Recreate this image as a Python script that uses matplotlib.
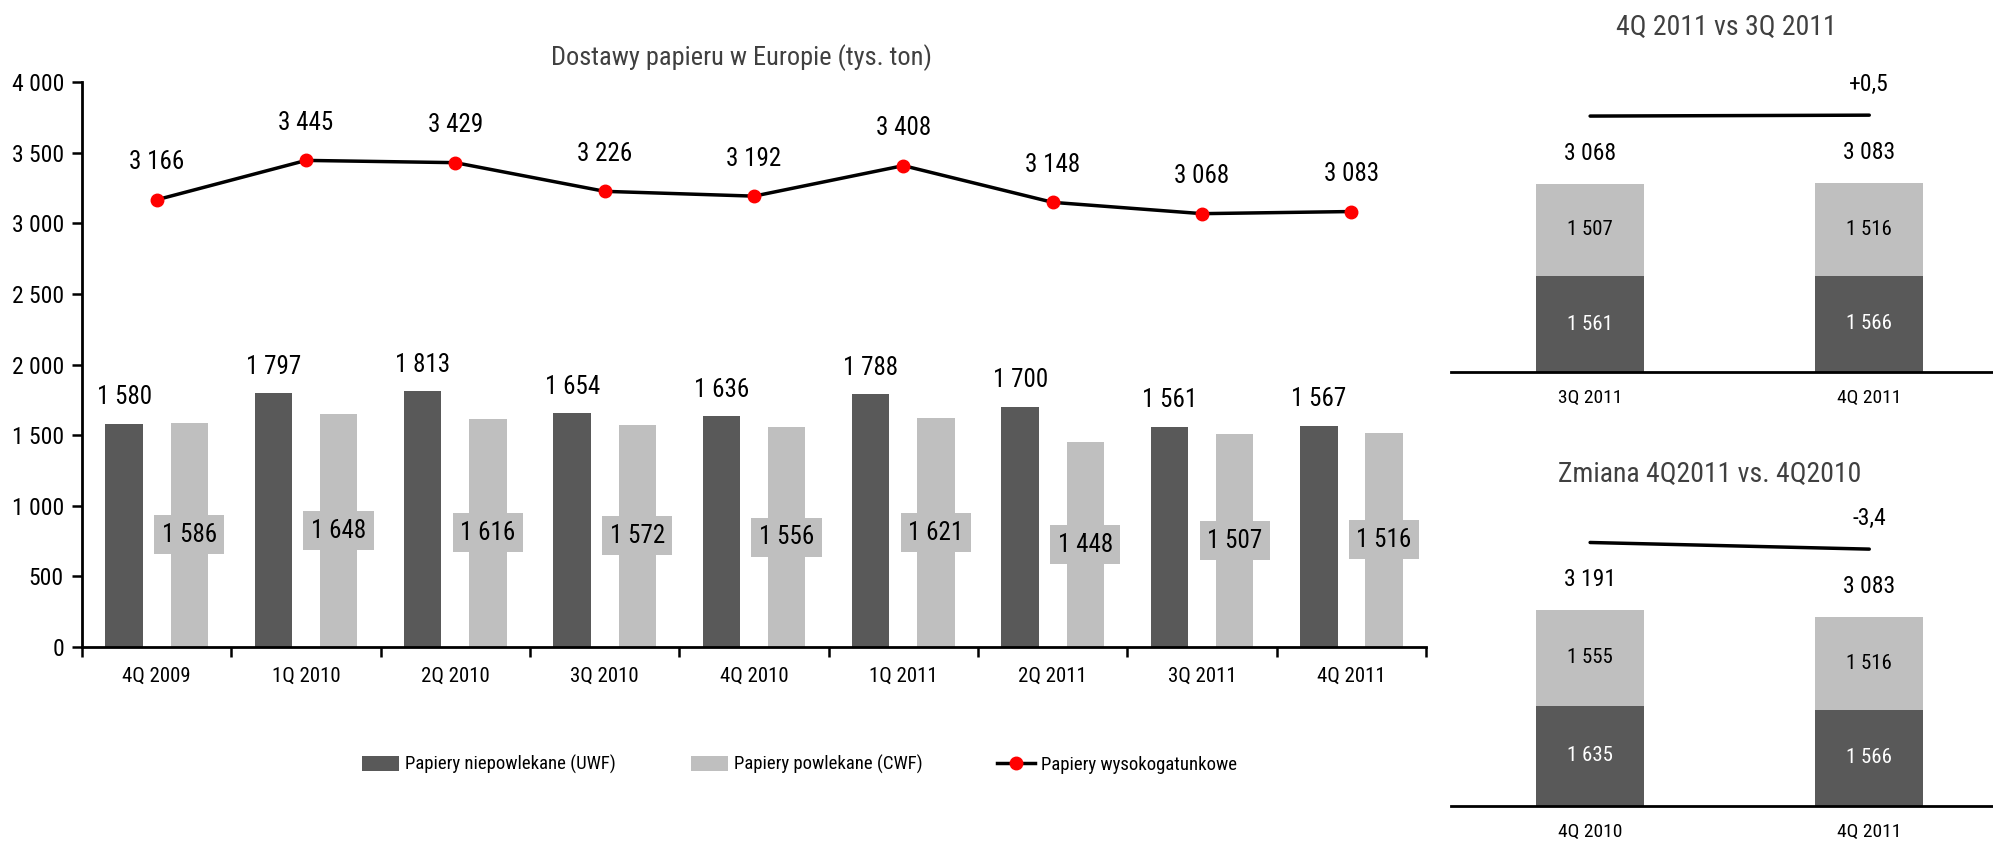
import numpy as np
from matplotlib import pyplot as plt
from matplotlib import font_manager
from matplotlib.patches import Rectangle, Patch
from matplotlib.lines import Line2D

# quarterly deliveries, thousand tonnes
quarters = ['4Q 2009', '1Q 2010', '2Q 2010', '3Q 2010', '4Q 2010',
            '1Q 2011', '2Q 2011', '3Q 2011', '4Q 2011']
uwf = [1580, 1797, 1813, 1654, 1636, 1788, 1700, 1561, 1567]
cwf = [1586, 1648, 1616, 1572, 1556, 1621, 1448, 1507, 1516]
high_grade = [3166, 3445, 3429, 3226, 3192, 3408, 3148, 3068, 3083]

# quarter on quarter
qoq_labels = ['3Q 2011', '4Q 2011']
qoq_uwf = [1561, 1566]
qoq_cwf = [1507, 1516]
qoq_total = [3068, 3083]
qoq_change = '+0,5'

# year on year
yoy_labels = ['4Q 2010', '4Q 2011']
yoy_uwf = [1635, 1566]
yoy_cwf = [1555, 1516]
yoy_total = [3191, 3083]
yoy_change = '-3,4'

DARK = '#595959'
LIGHT = '#bfbfbf'
TITLE = '#404040'

# a narrow sans if there is one, otherwise Liberation Sans set a bit smaller
names = {f.name for f in font_manager.fontManager.ttflist}
narrow = None
for cand in ['Liberation Sans Narrow', 'Arial Narrow', 'Nimbus Sans Narrow',
             'Roboto Condensed', 'Open Sans Condensed']:
    if cand in names:
        narrow = cand
        break
if narrow:
    k, kt = 1.0, 1.0
    plt.rcParams['font.family'] = [narrow, 'DejaVu Sans']
else:
    k, kt = 0.84, 0.9
    plt.rcParams['font.family'] = ['Liberation Sans', 'DejaVu Sans']


def fmt(v):
    return f'{int(v):,}'.replace(',', ' ')


fig = plt.figure(figsize=(19.93, 8.42), dpi=100)

# ---- main chart
ax = fig.add_axes([0.04114, 0.2316, 0.6744, 0.6710])
x = np.arange(len(quarters))
w = 0.25
off = 0.218
ax.bar(x - off, uwf, w, color=DARK, zorder=2)
ax.bar(x + off, cwf, w, color=LIGHT, zorder=2)
ax.plot(x, high_grade, color='black', lw=2.5, marker='o', ms=9,
        mfc='red', mec='red', zorder=4)

for i in range(len(quarters)):
    ax.annotate(fmt(uwf[i]), (x[i] - off, uwf[i]), xytext=(0, 19),
                textcoords='offset points', ha='center', va='center',
                fontsize=18 * k)
    ax.annotate(fmt(high_grade[i]), (x[i], high_grade[i]), xytext=(0, 27),
                textcoords='offset points', ha='center', va='center',
                fontsize=18 * k)
    # label box sitting in the middle of the coated bar
    bw, bh = 0.47, 276
    ax.add_patch(Rectangle((x[i] + off - bw / 2, cwf[i] / 2 - bh / 2), bw, bh,
                           facecolor=LIGHT, edgecolor='none', zorder=3))
    ax.text(x[i] + off, cwf[i] / 2, fmt(cwf[i]), ha='center', va='center',
            fontsize=18 * k, zorder=5)

ax.set_xlim(-0.5, len(quarters) - 0.5)
ax.set_ylim(0, 4000)
ax.set_yticks(np.arange(0, 4001, 500))
ax.set_yticklabels([fmt(v) for v in np.arange(0, 4001, 500)])
ax.set_xticks(x)
ax.set_xticklabels(quarters)
ax.set_xticks(np.arange(-0.5, len(quarters), 1), minor=True)
ax.tick_params(axis='x', which='major', length=0, labelsize=15 * k, pad=14)
ax.tick_params(axis='x', which='minor', length=7, width=1.8, direction='out')
ax.tick_params(axis='y', length=7, width=1.8, labelsize=17 * k, pad=6)
for s in ['top', 'right']:
    ax.spines[s].set_visible(False)
for s in ['left', 'bottom']:
    ax.spines[s].set_linewidth(2)
fig.text(0.372, 0.932, 'Dostawy papieru w Europie (tys. ton)', ha='center',
         va='center', fontsize=19 * kt, color=TITLE)

handles = [Patch(facecolor=DARK, edgecolor='none'),
           Patch(facecolor=LIGHT, edgecolor='none'),
           Line2D([], [], color='black', lw=2.5, marker='o', ms=9,
                  mfc='red', mec='red')]
fig.legend(handles, ['Papiery niepowlekane (UWF)', 'Papiery powlekane (CWF)',
                     'Papiery wysokogatunkowe'],
           loc='center', bbox_to_anchor=(0.401, 0.092), ncol=3, frameon=False,
           fontsize=13.5 * k, handlelength=2.0, handleheight=0.8,
           handletextpad=0.3, columnspacing=4.0)


# ---- comparison panels
def panel(rect, labels, dark, light, total, change, title, title_x, title_y):
    a = fig.add_axes(rect)
    xs = np.arange(len(labels))
    a.bar(xs, dark, 0.387, color=DARK)
    a.bar(xs, light, 0.387, bottom=dark, color=LIGHT)
    for i in range(len(labels)):
        a.text(xs[i], dark[i] / 2, fmt(dark[i]), ha='center', va='center',
               color='white', fontsize=15 * k)
        a.text(xs[i], dark[i] + light[i] / 2, fmt(light[i]), ha='center',
               va='center', color='black', fontsize=15 * k)
        a.annotate(fmt(total[i]), (xs[i], total[i]), xytext=(0, 22),
                   textcoords='offset points', ha='center', va='center',
                   fontsize=17 * k)
    lift = 1100
    a.plot(xs, [t + lift for t in total], color='black', lw=2.5,
           solid_capstyle='round')
    a.annotate(change, (xs[-1], total[-1] + lift), xytext=(0, 22),
               textcoords='offset points', ha='center', va='center',
               fontsize=17 * k)
    a.set_xlim(-0.498, 1.444)
    a.set_ylim(0, 4886)
    a.set_xticks(xs)
    a.set_xticklabels(labels)
    a.set_yticks([])
    a.tick_params(axis='x', length=0, labelsize=14 * k, pad=12)
    for s in ['top', 'right', 'left']:
        a.spines[s].set_visible(False)
    a.spines['bottom'].set_linewidth(2)
    fig.text(title_x, title_y, title, ha='center', va='center',
             fontsize=20 * kt, color=TITLE)
    return a


panel([0.7281, 0.5582, 0.2720, 0.3563], qoq_labels, qoq_uwf, qoq_cwf,
      qoq_total, qoq_change, '4Q 2011 vs 3Q 2011', 0.866, 0.968)
panel([0.7281, 0.0428, 0.2720, 0.3563], yoy_labels, yoy_uwf, yoy_cwf,
      yoy_total, yoy_change, 'Zmiana 4Q2011 vs. 4Q2010', 0.858, 0.437)

fig.savefig('out.png', dpi=100)
